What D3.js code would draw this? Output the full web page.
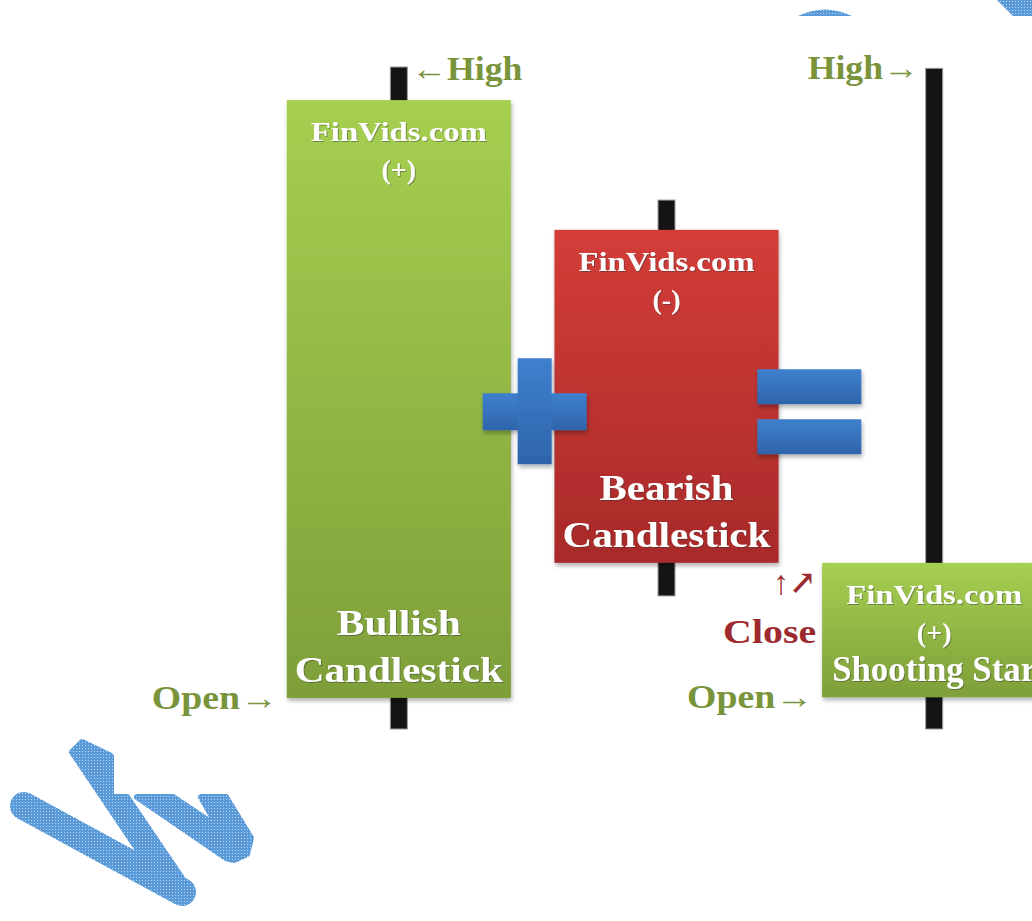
<!DOCTYPE html>
<html>
<head>
<meta charset="utf-8">
<script src="https://cdn.jsdelivr.net/npm/d3@7"></script>
<style>
  body { margin: 0; background: #fff; }
  svg { display: block; }
</style>
</head>
<body>
<svg id="svg" width="1032" height="921"></svg>
<script>
// candle values (arbitrary price units)
const candles = ["bullish", "bearish", "star"]
const opens  = [4.7, 75.4, 4.8]
const highs  = [100, 79.9, 99.8]
const lows   = [0, 20.1, 0]
const closes = [95.0, 25.1, 25.1]

const titles = ["FinVids.com", "FinVids.com", "FinVids.com"]
const signs  = ["(+)", "(-)", "(+)"]
const names  = [["Bullish", "Candlestick"], ["Bearish", "Candlestick"], ["Shooting Star"]]

const operators = ["+", "="]
const operatorLevel = 48

const highLabels  = ["←High", null, "High→"]
const openLabels  = ["Open→", null, "Open→"]
const closeLabels = [null, null, "Close"]

const svg = d3.select("#svg")
const width = 1032, height = 921

const x = d3.scaleBand().domain(candles).range([265, 1068]).paddingInner(0.1626).paddingOuter(0.0813)
const y = d3.scaleLinear().domain([0, 100]).range([729, 67])

const data = candles.map((c, i) => ({
  id: c, open: opens[i], high: highs[i], low: lows[i], close: closes[i],
  title: titles[i], sign: signs[i], name: names[i],
  up: closes[i] > opens[i]
}))

const defs = svg.append("defs")

function vGrad(id, top, bottom) {
  const g = defs.append("linearGradient").attr("id", id).attr("x1", 0).attr("y1", 0).attr("x2", 0).attr("y2", 1)
  g.append("stop").attr("offset", "0%").attr("stop-color", top)
  g.append("stop").attr("offset", "100%").attr("stop-color", bottom)
}
vGrad("gUp", "#a6cf51", "#7e9f39")
vGrad("gDown", "#d33d38", "#a82a2a")
vGrad("gBlue", "#3f80cd", "#2e64ab")

const shadow = defs.append("filter").attr("id", "shadow").attr("x", "-10%").attr("y", "-10%").attr("width", "130%").attr("height", "130%")
shadow.append("feDropShadow").attr("dx", 1).attr("dy", 3).attr("stdDeviation", 2).attr("flood-color", "#000").attr("flood-opacity", 0.3)

const txtShadow = defs.append("filter").attr("id", "tshadow")
txtShadow.append("feDropShadow").attr("dx", 1).attr("dy", 1).attr("stdDeviation", 0.6).attr("flood-color", "#333").attr("flood-opacity", 0.45)

// dotted blue watermark fill
const pat = defs.append("pattern").attr("id", "hatch").attr("width", 3).attr("height", 3).attr("patternUnits", "userSpaceOnUse")
pat.append("rect").attr("width", 3).attr("height", 3).attr("fill", "#5a9ad9")
pat.append("rect").attr("x", 1).attr("y", 1).attr("width", 1).attr("height", 1).attr("fill", "#b9d6f2")

// watermark pieces
const wm = svg.append("g").attr("fill", "url(#hatch)").attr("stroke", "url(#hatch)")
wm.append("line").attr("x1", 24).attr("y1", 806).attr("x2", 182).attr("y2", 892)
  .attr("stroke-width", 28).attr("stroke-linecap", "round")
wm.append("path").attr("stroke-width", 6).attr("stroke-linejoin", "round")
  .attr("d", "M72,752L82,742L111,756L111,797L127,797L192,893L184,902L165,890Z")
wm.append("path").attr("stroke-width", 6).attr("stroke-linejoin", "round")
  .attr("d", "M137,797L173,797L218,827L201,797L226,797L251,838L247,854L234,860L226,858Z")
wm.append("path").attr("stroke", "none").attr("d", "M798,16Q825,3 852,16Z")
wm.append("path").attr("stroke", "none").attr("d", "M997,0L1032,0L1032,16L1013,16Z")

const wickW = 17
const g = svg.append("g")

// wicks
g.append("g").selectAll("rect")
  .data(data)
  .join("rect")
    .attr("x", d => x(d.id) + x.bandwidth() / 2 - wickW / 2)
    .attr("y", d => y(d.high))
    .attr("width", wickW)
    .attr("height", d => y(d.low) - y(d.high))
    .attr("fill", "#141414")
    .attr("stroke", "#9a9a9a")
    .attr("stroke-width", 1)

// bodies
g.append("g").selectAll("rect")
  .data(data)
  .join("rect")
    .attr("x", d => x(d.id))
    .attr("y", d => y(Math.max(d.open, d.close)))
    .attr("width", x.bandwidth())
    .attr("height", d => Math.abs(y(d.open) - y(d.close)))
    .attr("fill", d => d.up ? "url(#gUp)" : "url(#gDown)")
    .attr("filter", "url(#shadow)")

// white text inside bodies
const serif = "'Liberation Serif', 'DejaVu Serif', serif"
const boxText = g.append("g")
  .attr("fill", "#fff")
  .attr("font-family", serif)
  .attr("font-weight", "bold")
  .attr("text-anchor", "middle")
  .attr("filter", "url(#tshadow)")

data.forEach(d => {
  const cx = x(d.id) + x.bandwidth() / 2
  const top = y(Math.max(d.open, d.close))
  const bottom = y(Math.min(d.open, d.close))
  boxText.append("text").attr("x", cx).attr("y", top + 41).attr("font-size", 27)
    .attr("textLength", 176).attr("lengthAdjust", "spacingAndGlyphs").text(d.title)
  boxText.append("text").attr("x", cx).attr("y", top + 79).attr("font-size", 28).text(d.sign)
  d.name.slice().reverse().forEach((line, j) => {
    const len = line === "Candlestick" ? 208 : line === "Shooting Star" ? 204 : line === "Bullish" ? 124 : 134
    boxText.append("text").attr("x", cx).attr("y", bottom - 16 - j * 47).attr("font-size", 36)
      .attr("textLength", len).attr("lengthAdjust", "spacingAndGlyphs").text(line)
  })
})

// plus and equals signs between candles
const ops = g.append("g").attr("fill", "url(#gBlue)").attr("filter", "url(#shadow)")
const oy = y(operatorLevel)
operators.forEach((op, i) => {
  const gapL = x(candles[i]) + x.bandwidth(), gapR = x(candles[i + 1])
  const cx = (gapL + gapR) / 2 + (op === "+" ? 2 : 9)
  if (op === "+") {
    ops.append("rect").attr("x", cx - 52).attr("y", oy - 18).attr("width", 104).attr("height", 37)
    ops.append("rect").attr("x", cx - 17).attr("y", oy - 53).attr("width", 34).attr("height", 106)
  } else {
    ops.append("rect").attr("x", cx - 52).attr("y", oy - 42).attr("width", 104).attr("height", 35)
    ops.append("rect").attr("x", cx - 52).attr("y", oy + 8).attr("width", 104).attr("height", 35)
  }
})

// annotations: High / Open / Close
const green = "#7a943c", red = "#9d2a2e"
const ann = g.append("g").attr("font-family", serif).attr("font-weight", "bold").attr("font-size", 33)

data.forEach((d, i) => {
  const cx = x(d.id) + x.bandwidth() / 2
  const left = x(d.id)
  if (highLabels[i]) {
    const toRight = highLabels[i].startsWith("←")
    ann.append("text")
      .attr("x", toRight ? cx + wickW / 2 + 4 : cx - wickW / 2 - 7)
      .attr("y", y(d.high) + (toRight ? 13 : 11))
      .attr("text-anchor", toRight ? "start" : "end")
      .attr("fill", green)
      .attr("textLength", 111).attr("lengthAdjust", "spacingAndGlyphs")
      .text(highLabels[i])
  }
  if (openLabels[i]) {
    ann.append("text")
      .attr("x", left - 9).attr("y", y(d.open) + 11)
      .attr("text-anchor", "end").attr("fill", green)
      .attr("textLength", 126).attr("lengthAdjust", "spacingAndGlyphs")
      .text(openLabels[i])
  }
  if (closeLabels[i]) {
    ann.append("text")
      .attr("x", left - 6).attr("y", y(d.close) + 80)
      .attr("text-anchor", "end").attr("fill", red)
      .attr("textLength", 93).attr("lengthAdjust", "spacingAndGlyphs")
      .text(closeLabels[i])
    ann.append("text")
      .attr("x", left - 6).attr("y", y(d.close) + 31)
      .attr("text-anchor", "end").attr("fill", red).attr("font-size", 34)
      .attr("textLength", 43).attr("lengthAdjust", "spacingAndGlyphs")
      .text("↑↗")
  }
})
</script>
</body>
</html>
